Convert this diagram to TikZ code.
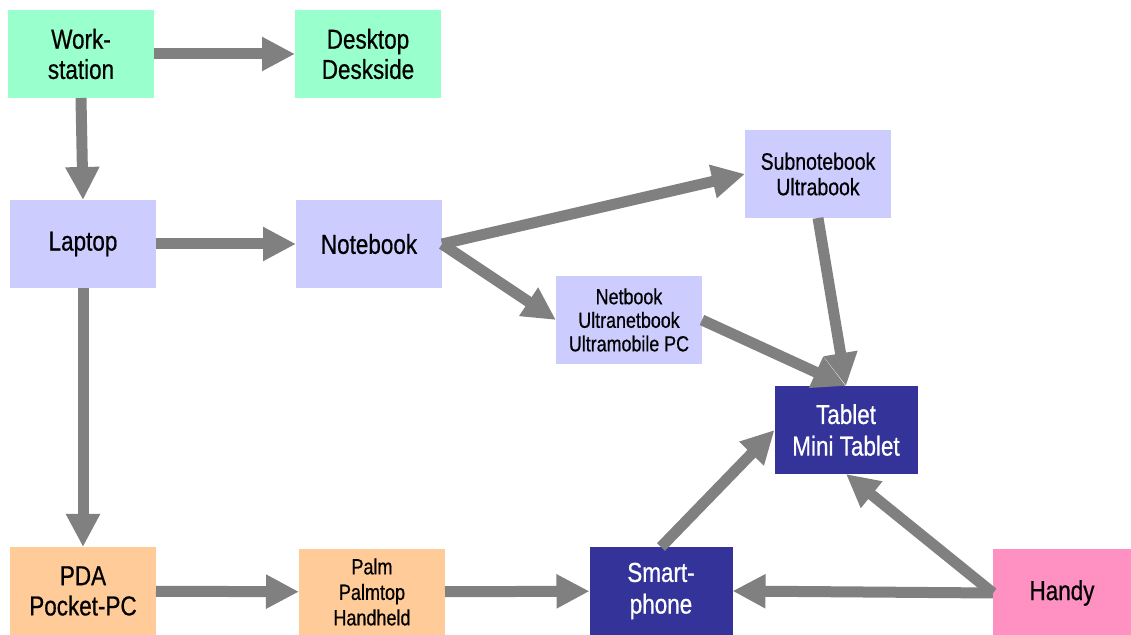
\documentclass[tikz,border=0pt]{standalone}
\usepackage{fontspec}
\setmainfont{Liberation Sans}[FakeStretch=0.82,FakeBold=0.6]
\usetikzlibrary{arrows.meta}

\definecolor{wsgreen}{HTML}{99FFCC}
\definecolor{lapblue}{HTML}{CCCCFF}
\definecolor{pdaorange}{HTML}{FFCC99}
\definecolor{tabnavy}{HTML}{333399}
\definecolor{handypink}{HTML}{FF91C2}

\begin{document}
\begin{tikzpicture}[x=0.2mm,y=-0.2mm,
    box/.style={rectangle,inner sep=0pt,outer sep=0pt,minimum width=29.2mm,
      minimum height=17.6mm,align=center,font=\fontsize{15.6}{17.2}\selectfont},
    small/.style={font=\fontsize{12.4}{13.4}\selectfont},
    arr/.style={draw=gray,line width=2.2mm,-{Triangle[length=6.6mm,width=6.4mm]}}]
                \useasboundingbox (0,0) rectangle (1131,635);
                %NODE
                \node[box,fill=wsgreen] (ws) at (81,54){Work-\\station};
                \node[box,fill=wsgreen] (desk) at (368,54){Desktop\\Deskside};
                \node[box,fill=lapblue] (lap) at (83,244){Laptop};
                \node[box,fill=lapblue] (nb) at (369,244){Notebook};
                \node[box,fill=lapblue,font=\fontsize{13.5}{14.5}\selectfont] (sub) at (818,174){Subnotebook\\Ultrabook};
                \node[box,fill=lapblue,small] (net) at (629,320){Netbook\\Ultranetbook\\Ultramobile PC};
                \node[box,fill=tabnavy,text=white,minimum width=28.6mm,font=\fontsize{15.6}{18}\selectfont] (tab) at (846,430){Tablet\\Mini Tablet};
                \node[box,fill=pdaorange] (pda) at (83,591){PDA\\Pocket-PC};
                \node[box,fill=pdaorange,font=\fontsize{12.5}{14.5}\selectfont,minimum height=17.2mm] (palm) at (372,592){Palm\\Palmtop\\Handheld};
                \node[box,fill=tabnavy,text=white,minimum width=28.6mm,font=\fontsize{15.6}{18}\selectfont] (sp) at (661,591){Smart-\\phone};
                \node[box,fill=handypink,minimum width=27.6mm] (hd) at (1062,593){Handy};

                %EDGE
                \draw[arr] (ws) -- (desk);
                \draw[arr] (ws.south) -- (lap.north);
                \draw[arr] (lap) -- (nb);
                \draw[arr] (lap) -- (pda);
                \draw[arr] (nb.east) -- (sub.west);
                \draw[arr] (nb.east) -- (net.west);
                \draw[arr] (sub.south) -- (tab.north);
                \draw[arr] (net.east) -- (tab.north);
                \draw[arr] (pda) -- (palm);
                \draw[arr] (palm) -- (sp);
                \draw[arr] (sp.north) -- (tab.west);
                \draw[arr] (hd.west) -- (tab.south);
                \draw[arr] (hd.west) -- (sp.east);
            \end{tikzpicture}
\end{document}
